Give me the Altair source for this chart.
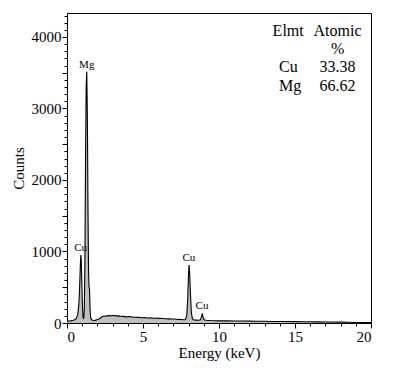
import altair as alt
import pandas as pd

energy = [0.0, 0.1, 0.2, 0.3, 0.4, 0.5, 0.6, 0.7, 0.78, 0.84, 0.88, 0.91, 0.94, 0.98, 1.02, 1.06, 1.1, 1.14,
          1.18, 1.22, 1.26, 1.30, 1.34, 1.38, 1.42, 1.45, 1.48, 1.52, 1.56, 1.62, 1.7, 1.8, 1.9, 2.0, 2.1,
          2.2, 2.3, 2.4, 2.5, 2.6, 2.7, 2.8, 2.9, 3.0, 3.1, 3.2, 3.3, 3.4, 3.5, 3.7, 3.9, 4.1, 4.3, 4.5,
          4.7, 4.9, 5.1, 5.3, 5.5, 5.7, 5.9, 6.1, 6.3, 6.5, 6.7, 6.9, 7.1, 7.3, 7.5, 7.7, 7.8, 7.88,
          7.94, 7.99, 8.03, 8.07, 8.12, 8.18, 8.25, 8.35, 8.5, 8.65, 8.78, 8.85, 8.9, 8.95, 9.02, 9.15,
          9.4, 9.7, 10.0, 10.5, 11.0, 11.5, 12.0, 12.5, 13.0, 13.5, 14.0, 14.5, 15.0, 15.5, 16.0, 16.5,
          17.0, 17.5, 18.0, 18.5, 19.0, 19.5, 20.0]
counts = [30, 28, 30, 33, 38, 45, 60, 110, 260, 560, 820, 950, 870, 520, 210, 80, 60, 190,
          900, 2300, 3300, 3515, 2900, 1600, 700, 500, 480, 180, 70, 45, 38, 35, 40, 48, 55,
          70, 88, 98, 95, 102, 100, 106, 98, 108, 100, 104, 96, 100, 95, 92, 86, 90, 82, 80,
          78, 74, 76, 70, 72, 66, 68, 64, 62, 60, 58, 55, 56, 50, 48, 45, 50, 110,
          330, 650, 811, 700, 420, 150, 60, 42, 40, 38, 45, 90, 135, 80, 45, 38,
          34, 32, 30, 31, 28, 27, 26, 25, 24, 22, 21, 20, 19, 18, 17, 16,
          15, 13, 12, 10, 8, 6, 5]

peak_labels = ["Cu", "Mg", "Cu", "Cu"]
peak_x = [0.90, 1.30, 8.02, 8.88]
peak_y = [951, 3515, 811, 135]

table_text = ["Elmt", "Atomic", "%", "Cu", "33.38", "Mg", "66.62"]
table_x = [14.55, 17.8, 17.8, 13.95, 17.8, 13.95, 17.8]
table_y = [4084, 4084, 3832, 3580, 3580, 3315, 3315]
table_align = ["center", "center", "center", "left", "center", "left", "center"]

x_ticks = list(range(0, 21))
y_ticks = list(range(0, 4301, 100))

spec = pd.DataFrame({"energy": energy, "counts": counts})
peaks = pd.DataFrame({"label": peak_labels, "x": peak_x, "y": peak_y})
table = pd.DataFrame({"t": table_text, "x": table_x, "y": table_y, "a": table_align})

FONT = "Liberation Serif, Times New Roman, serif"
xscale = alt.Scale(domain=[0, 20], nice=False)
yscale = alt.Scale(domain=[0, 4335], nice=False)

common = dict(
    grid=False, domainColor="black", tickColor="black", labelColor="black",
    labelFont=FONT, labelFontSize=15, titleFont=FONT, titleFontSize=15,
    titleFontWeight="normal", titleColor="black", labelPadding=1,
    labelOverlap=False,
)
xaxis = alt.Axis(
    values=x_ticks,
    labelExpr="datum.value % 5 === 0 ? datum.label : ''",
    tickSize={"condition": {"test": "datum.value % 5 === 0", "value": 5}, "value": 3},
    titlePadding=1, **common,
)
yaxis = alt.Axis(
    values=y_ticks,
    labelExpr="datum.value % 1000 === 0 ? datum.label : ''",
    tickSize={"condition": {"test": "datum.value % 500 === 0", "value": 5}, "value": 3},
    format="d", titlePadding=5, **common,
)

X = lambda f: alt.X(f, scale=xscale, axis=xaxis, title="Energy (keV)")
Y = lambda f: alt.Y(f, scale=yscale, axis=yaxis, title="Counts")

area = alt.Chart(spec).mark_area(
    color="#a4a4a4", line={"color": "black", "strokeWidth": 1.1}, interpolate="linear"
).encode(x=X("energy:Q"), y=Y("counts:Q"))

plabels = alt.Chart(peaks).mark_text(
    font=FONT, fontSize=11, color="black", baseline="bottom", dy=-2
).encode(x=X("x:Q"), y=Y("y:Q"), text="label:N")

tbl_left = alt.Chart(table[table["a"] == "left"]).mark_text(
    font=FONT, fontSize=16, color="black", baseline="middle", align="left"
).encode(x=X("x:Q"), y=Y("y:Q"), text="t:N")
tbl_center = alt.Chart(table[table["a"] == "center"]).mark_text(
    font=FONT, fontSize=16, color="black", baseline="middle", align="center"
).encode(x=X("x:Q"), y=Y("y:Q"), text="t:N")

chart = alt.layer(area, plabels, tbl_left, tbl_center).properties(
    width=304, height=310,
    background="white",
    autosize=alt.AutoSizeParams(type="none"),
    padding={"left": 59, "top": 5, "right": 14, "bottom": 42},
).configure_view(stroke="black", strokeWidth=1)

chart.save("out.html", embed_options={"renderer": "svg", "actions": False})
